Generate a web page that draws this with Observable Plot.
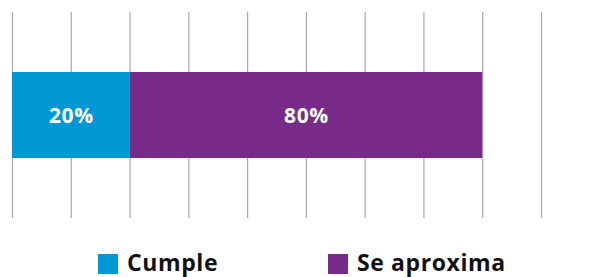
<!DOCTYPE html>
<html><head><meta charset="utf-8">
<script src="https://cdn.jsdelivr.net/npm/d3@7"></script>
<script src="https://cdn.jsdelivr.net/npm/@observablehq/plot@0.6"></script>
<style>
body{margin:0;background:#fff;font-family:"Open Sans","Noto Sans",sans-serif;}
#wrap{position:relative;width:591px;height:277px;overflow:hidden;}
#wrap svg text{letter-spacing:0.6px;}
.leg{position:absolute;top:250px;display:flex;align-items:center;font-weight:700;font-size:23px;letter-spacing:0.6px;color:#111;line-height:25px;}
.sw{width:20px;height:20px;margin-right:9px;margin-top:3px;}
</style></head>
<body><div id="wrap"></div>
<script>
const categories = ["Cumple", "Se aproxima"];
const barLengths = [20, 60];           // bar lengths in grid units
const labels = ["20%", "80%"];
const colors = ["#0097D6", "#782A88"];
const gridTicks = [0, 10, 20, 30, 40, 50, 60, 70, 80, 90];

const data = categories.map((c, i) => ({cat: c, v: barLengths[i], label: labels[i], row: "r"}));

const chart = Plot.plot({
  width: 591, height: 230,
  marginLeft: 12, marginRight: 50, marginTop: 12, marginBottom: 12,
  x: {domain: [0, 90], axis: null},
  y: {domain: ["r"], axis: null, padding: 0.41},
  color: {domain: categories, range: colors},
  style: {fontFamily: "'Open Sans', 'Noto Sans', sans-serif"},
  marks: [
    Plot.ruleX(gridTicks, {stroke: "#a8a8a8", strokeWidth: 1.2, strokeOpacity: 1}),
    Plot.barX(data, {x: "v", y: "row", fill: "cat"}),
    Plot.text(data, Plot.stackX({x: "v", y: "row", z: "cat", text: "label",
      fill: "white", fontSize: 21, fontWeight: "bold", dy: 1}))
  ]
});
const wrap = document.getElementById("wrap");
wrap.appendChild(chart);
const legLeft = [98, 328];
categories.forEach((c, i) => {
  const d = document.createElement("div");
  d.className = "leg";
  d.style.left = legLeft[i] + "px";
  d.innerHTML = `<span class="sw" style="background:${colors[i]}"></span><span>${c}</span>`;
  wrap.appendChild(d);
});
</script></body></html>
